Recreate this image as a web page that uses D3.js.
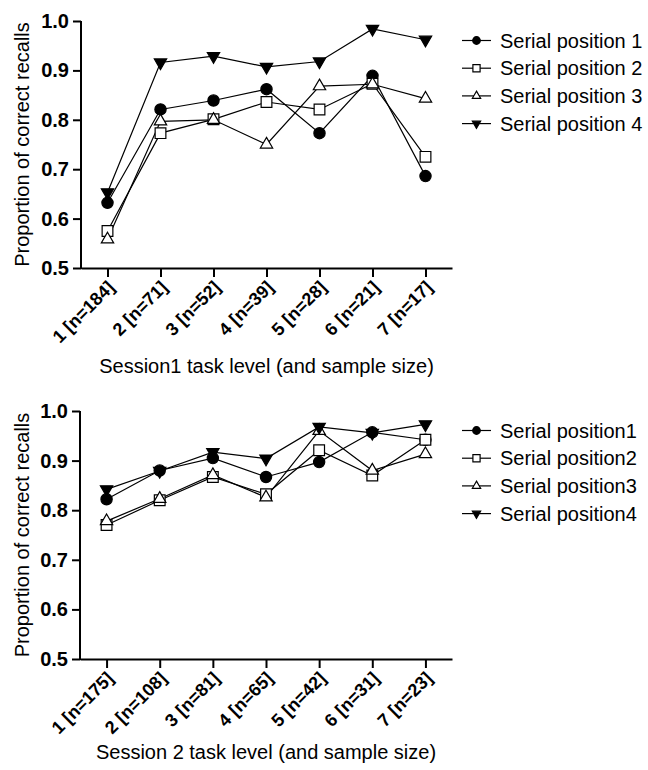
<!DOCTYPE html>
<html lang="en">
<head>
    <meta charset="UTF-8">
    <title>Serial position recalls</title>
    <script src="https://d3js.org/d3.v7.min.js"></script>
    <style>
        body { margin: 0; background: #fff; }
        svg { font-family: "Liberation Sans", Arial, sans-serif; }
        .axis path, .axis line { stroke: #000; stroke-width: 2px; }
        .ytick text { font-size: 20px; font-weight: bold; }
        .xtick text { font-size: 18px; font-weight: bold; }
        .axis-title { font-size: 20px; }
        .legend text { font-size: 20px; }
    </style>
</head>
<body>
    <svg id="chart" width="648" height="770"></svg>
    <script>
        // Data
        var levels = [1, 2, 3, 4, 5, 6, 7];
        var session1N = [184, 71, 52, 39, 28, 21, 17];
        var session2N = [175, 108, 81, 65, 42, 31, 23];
        var yTicks = [0.5, 0.6, 0.7, 0.8, 0.9, 1.0];

        var s1pos1 = [0.632, 0.821, 0.839, 0.862, 0.773, 0.889, 0.686];
        var s1pos2 = [0.575, 0.773, 0.801, 0.836, 0.821, 0.873, 0.725];
        var s1pos3 = [0.558, 0.797, 0.800, 0.750, 0.868, 0.872, 0.843];
        var s1pos4 = [0.653, 0.916, 0.929, 0.907, 0.918, 0.984, 0.962];

        var s2pos1 = [0.822, 0.880, 0.905, 0.867, 0.897, 0.957, 0.942];
        var s2pos2 = [0.770, 0.820, 0.867, 0.832, 0.921, 0.870, 0.942];
        var s2pos3 = [0.778, 0.823, 0.871, 0.826, 0.960, 0.880, 0.913];
        var s2pos4 = [0.842, 0.879, 0.917, 0.904, 0.968, 0.956, 0.973];

        var markerTypes = ["circle", "square", "triangleUp", "triangleDown"];

        var svg = d3.select("#chart");

        // k scales the marker area (legend markers are smaller)
        function marker(sel, type, k) {
            k = k || 1;
            var sym = d3.symbol();
            if (type === "circle") sel.attr("d", sym.type(d3.symbolCircle).size(100 * k)).attr("fill", "#000");
            else if (type === "square") sel.attr("d", sym.type(d3.symbolSquare).size(115 * k)).attr("fill", "#fff");
            else if (type === "triangleUp") sel.attr("d", sym.type(d3.symbolTriangle).size(66 * k)).attr("fill", "#fff");
            else sel.attr("d", sym.type(d3.symbolTriangle).size(66 * k)).attr("fill", "#000");
            sel.attr("stroke", "#000").attr("stroke-width", 1.2);
        }

        function drawPanel(opt) {
            var g = svg.append("g").attr("transform", "translate(" + opt.left + "," + opt.top + ")");
            var width = opt.width, height = opt.height;

            var x = d3.scalePoint().domain(levels).range([0, width]).padding(0.5);
            var y = d3.scaleLinear().domain([0.5, 1.0]).range([height, 0]);

            // y-axis
            var yAxis = g.append("g")
                .attr("class", "axis ytick")
                .call(d3.axisLeft(y).tickValues(yTicks).tickFormat(d3.format(".1f")).tickSize(8).tickPadding(4));
            yAxis.select(".domain").attr("d", "M0," + (height + 1) + "V0");

            // x-axis
            var xAxis = g.append("g")
                .attr("class", "axis xtick")
                .attr("transform", "translate(0," + height + ")")
                .call(d3.axisBottom(x).tickSize(9).tickSizeOuter(0)
                    .tickFormat(function(d, i) { return d + " [n=" + opt.n[i] + "]"; }));
            xAxis.selectAll("text")
                .attr("text-anchor", "end")
                .attr("dy", "0.35em")
                .attr("transform", "translate(3,16) rotate(-45)")
                .attr("x", 0).attr("y", 0);

            // axis titles
            g.append("text")
                .attr("class", "axis-title")
                .attr("transform", "translate(" + (22 - opt.left) + "," + (height / 2) + ") rotate(-90)")
                .attr("text-anchor", "middle")
                .attr("dy", "0.35em")
                .text("Proportion of correct recalls");

            g.append("text")
                .attr("class", "axis-title")
                .attr("x", width / 2)
                .attr("y", height + opt.titleOffset)
                .attr("text-anchor", "middle")
                .text(opt.xTitle);

            // lines and markers
            var line = d3.line()
                .x(function(d, i) { return x(levels[i]); })
                .y(function(d) { return y(d); });

            opt.series.forEach(function(vals) {
                g.append("path")
                    .datum(vals)
                    .attr("fill", "none")
                    .attr("stroke", "#000")
                    .attr("stroke-width", 1.2)
                    .attr("d", line);
            });
            opt.series.forEach(function(vals, si) {
                g.selectAll(".m" + si)
                    .data(vals)
                    .enter().append("path")
                    .attr("class", "m" + si)
                    .attr("transform", function(d, i) {
                        return "translate(" + x(levels[i]) + "," + y(d) + ")" +
                            (markerTypes[si] === "triangleDown" ? " rotate(180)" : "");
                    })
                    .call(marker, markerTypes[si]);
            });

            // legend
            var leg = svg.append("g")
                .attr("class", "legend")
                .attr("transform", "translate(462," + opt.legendTop + ")");
            opt.labels.forEach(function(lab, i) {
                var row = leg.append("g").attr("transform", "translate(0," + (i * 27.7) + ")");
                row.append("line").attr("x1", 0).attr("x2", 29).attr("y1", 0).attr("y2", 0)
                    .attr("stroke", "#000").attr("stroke-width", 1.2);
                row.append("path")
                    .attr("transform", "translate(14.5,0)" + (markerTypes[i] === "triangleDown" ? " rotate(180)" : ""))
                    .call(marker, markerTypes[i], 0.45);
                row.append("text").attr("x", 38).attr("y", 0).attr("dy", "0.35em").text(lab);
            });
        }

        drawPanel({
            left: 81, top: 21, width: 371, height: 247,
            n: session1N,
            series: [s1pos1, s1pos2, s1pos3, s1pos4],
            xTitle: "Session1 task level (and sample size)",
            titleOffset: 105,
            labels: ["Serial position 1", "Serial position 2", "Serial position 3", "Serial position 4"],
            legendTop: 40.5
        });

        drawPanel({
            left: 80, top: 411, width: 372, height: 248,
            n: session2N,
            series: [s2pos1, s2pos2, s2pos3, s2pos4],
            xTitle: "Session 2 task level (and sample size)",
            titleOffset: 100,
            labels: ["Serial position1", "Serial position2", "Serial position3", "Serial position4"],
            legendTop: 430.5
        });
    </script>
</body>
</html>
